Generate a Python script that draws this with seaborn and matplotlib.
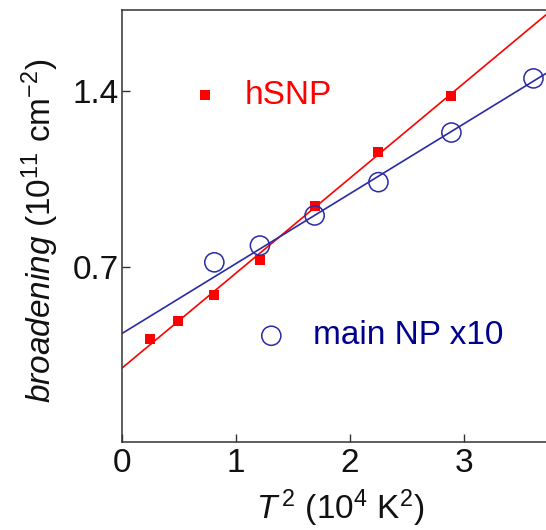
import numpy as np
import pandas as pd
import matplotlib
matplotlib.use("Agg")
import matplotlib.pyplot as plt
import seaborn as sns

# ---- data ----
hsnp_T2 = [0.25, 0.49, 0.81, 1.21, 1.69, 2.25, 2.89]
hsnp_broad = [0.411, 0.484, 0.585, 0.727, 0.940, 1.159, 1.381]
main_T2 = [0.81, 1.21, 1.69, 2.25, 2.89, 3.61]
main_broad = [0.717, 0.784, 0.904, 1.037, 1.235, 1.451]
series_names = ["hSNP", "main NP x10"]
fit_intercepts = [0.295, 0.433]
fit_slopes = [0.379, 0.279]
x_ticks = [0, 1, 2, 3]
y_ticks = [0.7, 1.4]
y_tick_labels = ["0.7", "1.4"]

sns.set_theme(style="ticks")
plt.rcParams["font.family"] = ["Liberation Sans", "DejaVu Sans"]
plt.rcParams["mathtext.fontset"] = "custom"
plt.rcParams["mathtext.rm"] = "Liberation Sans"
plt.rcParams["mathtext.it"] = "Liberation Sans:italic"

RED = "#ff0000"
BLUE_LINE = "#2a2aa6"
BLUE_TEXT = "#00008f"

fig = plt.figure(figsize=(5.46, 5.30), dpi=100)
ax = fig.add_axes([122/546, 1-442/530, 1-122/546, (442-10)/530])

xmin, xmax = 0, 3.72
ymin, ymax = 0, 1.724

# fit lines
xs = np.array([xmin, xmax])
fits = pd.DataFrame({
    "x": np.concatenate([xs, xs]),
    "y": np.concatenate([fit_intercepts[0] + fit_slopes[0]*xs,
                         fit_intercepts[1] + fit_slopes[1]*xs]),
    "s": [series_names[0]]*2 + [series_names[1]]*2,
})
sns.lineplot(data=fits, x="x", y="y", hue="s", palette=[RED, BLUE_LINE],
             linewidth=1.2, legend=False, ax=ax)

# points
df_h = pd.DataFrame({"x": hsnp_T2, "y": hsnp_broad})
df_m = pd.DataFrame({"x": main_T2, "y": main_broad})
sns.scatterplot(data=df_h, x="x", y="y", marker="s", s=45, color=RED,
                edgecolor=RED, linewidth=0, ax=ax, zorder=3)
sns.scatterplot(data=df_m, x="x", y="y", marker="o", s=190, facecolor="none",
                edgecolor=BLUE_LINE, linewidth=1.1, ax=ax, zorder=3)

# in-plot legend
ax.scatter([0.728], [1.384], marker="s", s=45, color=RED, linewidth=0, zorder=3)
ax.text(1.08, 1.384, series_names[0], color=RED, fontsize=24, va="center", ha="left")
ax.scatter([1.31], [0.424], marker="o", s=190, facecolor="none",
           edgecolor=BLUE_LINE, linewidth=1.1, zorder=3)
ax.text(1.68, 0.424, series_names[1], color=BLUE_TEXT, fontsize=24, va="center", ha="left")

ax.set_xlim(xmin, xmax)
ax.set_ylim(ymin, ymax)
ax.set_xticks(x_ticks)
ax.set_xticklabels([str(t) for t in x_ticks])
ax.set_yticks(y_ticks)
ax.set_yticklabels(y_tick_labels)
ax.tick_params(direction="in", length=6, width=1.0, labelsize=24, color="#333333",
               labelcolor="#111111")
ax.tick_params(axis="x", pad=4)
ax.tick_params(axis="y", pad=2)

for side in ["left", "bottom", "top"]:
    ax.spines[side].set_color("#333333")
    ax.spines[side].set_linewidth(1.1)
ax.spines["right"].set_visible(False)

ax.set_xlabel(r"$\mathit{T}^{\,2}$ (10$^4$ K$^2$)", fontsize=24, color="#111111")
ax.set_ylabel(r"$\mathit{broadening}$ (10$^{11}$ cm$^{-2}$)", fontsize=24, color="#111111")
ax.xaxis.set_label_coords(0.514, -0.105)
ax.yaxis.set_label_coords(-0.145, 0.49)

fig.savefig("out.png", dpi=100)
